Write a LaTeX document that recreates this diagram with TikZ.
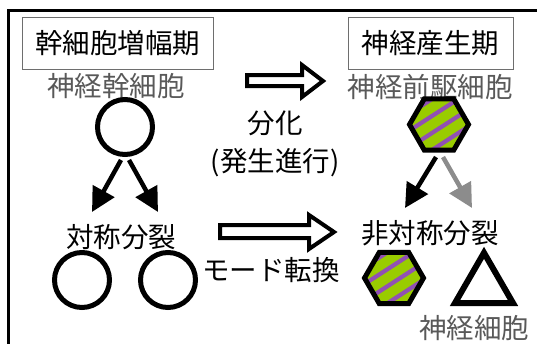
\documentclass[tikz,border=0pt]{standalone}
\usepackage{fontspec}
\newfontfamily\jp{Noto Sans CJK JP}
\usetikzlibrary{arrows.meta,shapes.geometric}
\definecolor{textgray}{RGB}{89,89,89}
\definecolor{boxgray}{RGB}{110,110,110}
\definecolor{hexgreen}{RGB}{153,204,0}
\definecolor{hexpurple}{RGB}{145,80,180}
\definecolor{arrowgray}{RGB}{140,140,140}
\begin{document}
\begin{tikzpicture}[x=1pt,y=-1pt,
  lbl/.style={font=\jp\fontsize{27.5}{27.5}\selectfont, inner sep=0pt},
  graylbl/.style={lbl, text=textgray},
  titlebox/.style={lbl, draw=boxgray, line width=1pt, minimum height=52pt},
  cell/.style={circle, draw, line width=5pt, minimum size=55pt, inner sep=0pt},
  hexcell/.style={regular polygon, regular polygon sides=6, draw, line width=5pt,
    minimum size=59pt, inner sep=0pt, fill=hexgreen,
    path picture={\foreach \d in {-30,-13,4,21}{\draw[hexpurple, line width=4.2pt,
      shift={(path picture bounding box.center)}] (-45,{\d+29}) -- (45,{\d-29});}}},
  neuron/.style={regular polygon, regular polygon sides=3, draw, line width=6pt,
    line join=miter, minimum size=67pt, inner sep=0pt},
  hollowarrow/.style={draw, line width=4pt, line join=miter, fill=white},
  splitarrow/.style={line width=4.5pt, -{Triangle[length=24pt,width=24pt]}},
]
\useasboundingbox (0,0) rectangle (537,343);
\draw[line width=3pt] (8,10) rectangle (560,370);

% titles
\node[titlebox, minimum width=191pt] (t1) at (117.5,43) {幹細胞増幅期};
\node[titlebox, minimum width=165pt] (t2) at (430.5,43) {神経産生期};

% labels
\node[graylbl] (l1) at (116,86) {神経幹細胞};
\node[graylbl] (l2) at (430,87) {神経前駆細胞};
\node[lbl] (diff) at (275,123) {分化};
\node[lbl] (dev) at (275,163) {(発生進行)};
\node[lbl] (sym) at (121,237) {対称分裂};
\node[lbl] (asym) at (430,233) {非対称分裂};
\node[lbl] (mode) at (271,270) {モード転換};
\node[graylbl] (l3) at (474,328) {神経細胞};

% cells
\node[cell] (c1) at (125,127) {};
\node[cell] (c2) at (82,280) {};
\node[cell] (c3) at (168,280) {};
\node[hexcell] (h1) at (439,124.5) {};
\node[hexcell] (h2) at (394,278) {};
\node[neuron] (n1) at (484,286.3) {};

% hollow arrows
\draw[hollowarrow] (247,75) -- (302,75) -- (302,65) -- (323,81) -- (302,97) -- (302,86) -- (247,86) -- cycle;
\draw[hollowarrow] (220,225) -- (309,225) -- (309,215) -- (334,232) -- (309,249) -- (309,238) -- (220,238) -- cycle;

% division arrows
\coordinate (s1tip) at (92,212);
\coordinate (s2tip) at (158,212);
\coordinate (a1tip) at (405,208);
\coordinate (a2tip) at (472,208);
\draw[splitarrow] ([xshift=-4pt,yshift=-3pt]c1.south) -- (s1tip);
\draw[splitarrow] ([xshift=4pt,yshift=-3pt]c1.south) -- (s2tip);
\draw[splitarrow] ([xshift=-3pt,yshift=-4.5pt]h1.south) -- (a1tip);
\draw[splitarrow, arrowgray] ([xshift=4pt,yshift=-4.5pt]h1.south) -- (a2tip);
\end{tikzpicture}
\end{document}
